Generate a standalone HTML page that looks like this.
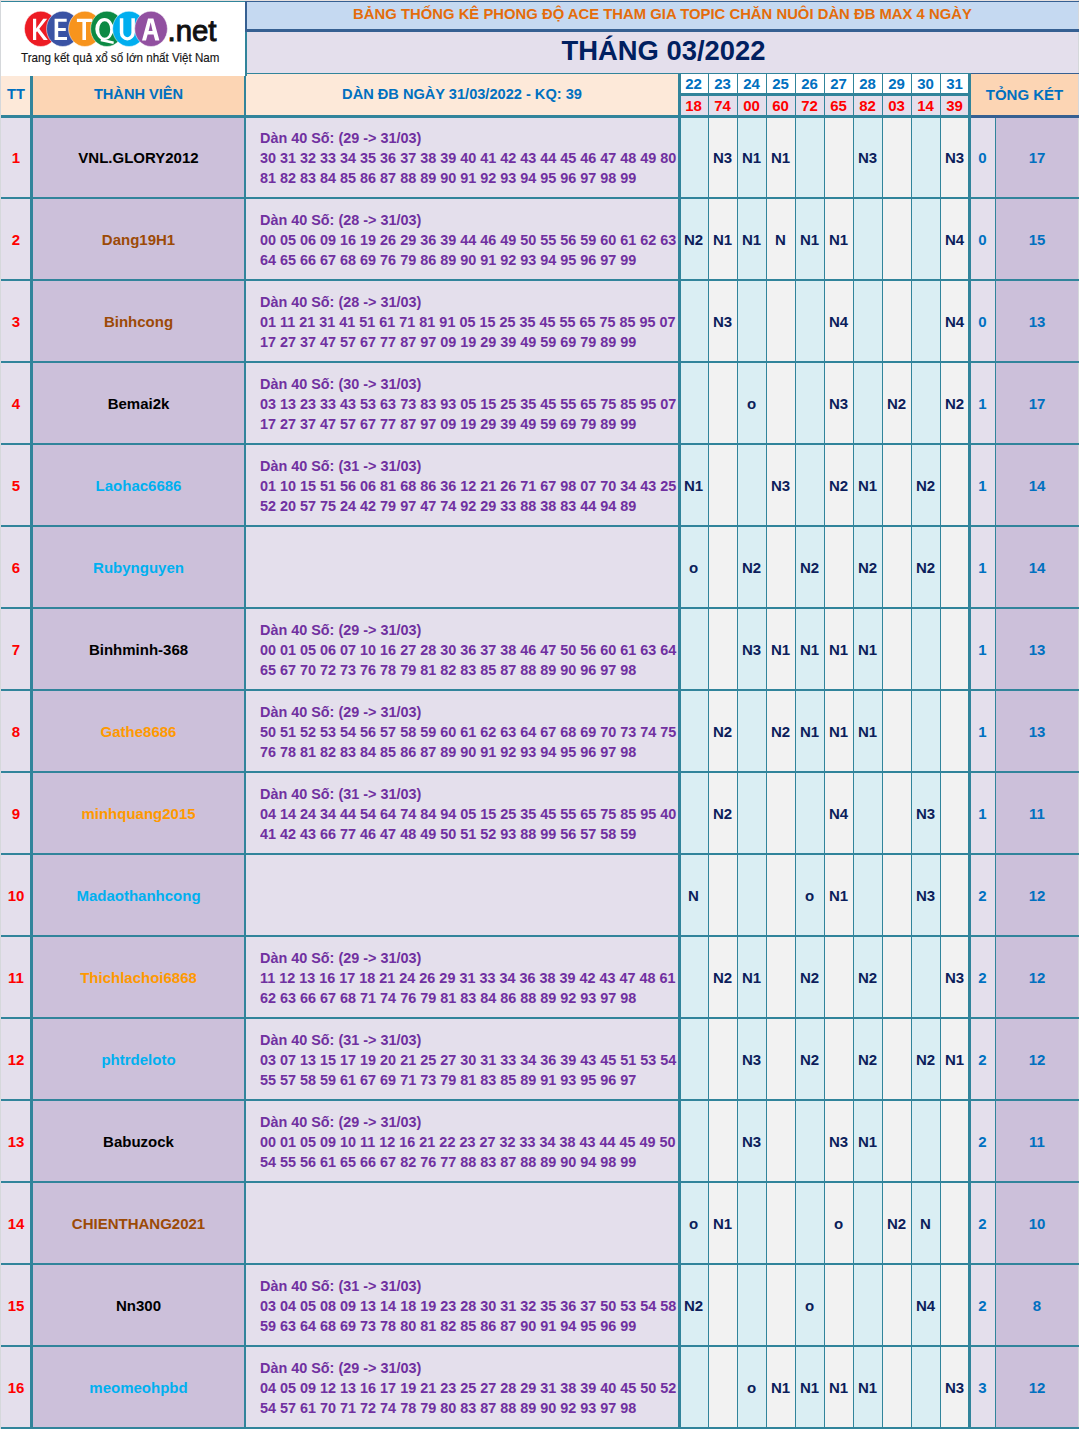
<!DOCTYPE html><html><head><meta charset="utf-8"><style>
*{margin:0;padding:0;box-sizing:border-box}
html,body{width:1079px;height:1429px;overflow:hidden;background:#fff}
body{position:relative;font-family:"Liberation Sans",sans-serif;font-weight:bold}
body>div{position:absolute;white-space:nowrap}
.t1{color:#E46C0A;font-size:14.85px;text-align:center}
.t2{color:#002060;font-size:27.4px;text-align:center}
.hd{color:#0070C0;font-size:14.6px;text-align:center}
.hd2{color:#0070C0;font-size:15px;text-align:center}
.dn{color:#0070C0;font-size:15px;text-align:center}
.rs{color:#FF0000;font-size:15px;text-align:center}
.tt{color:#FF0000;font-size:15px;text-align:center}
.nm{font-size:15px;text-align:center}
.dan{color:#7030A0;font-size:15px;line-height:20px;transform:scaleX(0.96);transform-origin:0 0}
.mk{color:#0C1E5B;font-size:15px;text-align:center}
.to{color:#0070C0;font-size:15px;text-align:center}
</style></head><body>
<div style="left:0px;top:0px;width:1079px;height:1px;background:#E7E1DF;"></div><div style="left:0px;top:0px;width:1px;height:1429px;background:#D5D8DB;"></div><div style="left:1078px;top:0px;width:1px;height:1429px;background:#D5D8DB;"></div><div style="left:1px;top:2px;width:244px;height:74px;background:#FFFFFF;"></div><div style="left:247px;top:2px;width:831px;height:27px;background:#C5D9F1;"></div><div style="left:247px;top:32px;width:831px;height:41px;background:#E4DFEC;"></div><div style="left:1px;top:76px;width:29px;height:39px;background:#FDE9D9;"></div><div style="left:33px;top:76px;width:211px;height:39px;background:#FCD5B4;"></div><div style="left:246px;top:74px;width:432px;height:41px;background:#FDE9D9;"></div><div style="left:681px;top:74px;width:27px;height:19px;background:#FFFFFF;"></div><div style="left:681px;top:96px;width:27px;height:19px;background:#E4DFEC;"></div><div style="left:709px;top:74px;width:28px;height:19px;background:#FFFFFF;"></div><div style="left:709px;top:96px;width:28px;height:19px;background:#E4DFEC;"></div><div style="left:738px;top:74px;width:28px;height:19px;background:#FFFFFF;"></div><div style="left:738px;top:96px;width:28px;height:19px;background:#E4DFEC;"></div><div style="left:767px;top:74px;width:28px;height:19px;background:#FFFFFF;"></div><div style="left:767px;top:96px;width:28px;height:19px;background:#E4DFEC;"></div><div style="left:796px;top:74px;width:28px;height:19px;background:#FFFFFF;"></div><div style="left:796px;top:96px;width:28px;height:19px;background:#E4DFEC;"></div><div style="left:825px;top:74px;width:28px;height:19px;background:#FFFFFF;"></div><div style="left:825px;top:96px;width:28px;height:19px;background:#E4DFEC;"></div><div style="left:854px;top:74px;width:28px;height:19px;background:#FFFFFF;"></div><div style="left:854px;top:96px;width:28px;height:19px;background:#E4DFEC;"></div><div style="left:883px;top:74px;width:28px;height:19px;background:#FFFFFF;"></div><div style="left:883px;top:96px;width:28px;height:19px;background:#E4DFEC;"></div><div style="left:912px;top:74px;width:28px;height:19px;background:#FFFFFF;"></div><div style="left:912px;top:96px;width:28px;height:19px;background:#E4DFEC;"></div><div style="left:941px;top:74px;width:28px;height:19px;background:#FFFFFF;"></div><div style="left:941px;top:96px;width:28px;height:19px;background:#E4DFEC;"></div><div style="left:971px;top:74px;width:107px;height:41px;background:#FCD5B4;"></div><div style="left:1px;top:118px;width:29px;height:79px;background:#E4DFEC;"></div><div style="left:33px;top:118px;width:211px;height:79px;background:#CCC0DA;"></div><div style="left:246px;top:118px;width:432px;height:79px;background:#E4DFEC;"></div><div style="left:681px;top:118px;width:27px;height:79px;background:#DAEEF3;"></div><div style="left:709px;top:118px;width:28px;height:79px;background:#F2F2F2;"></div><div style="left:738px;top:118px;width:28px;height:79px;background:#DAEEF3;"></div><div style="left:767px;top:118px;width:28px;height:79px;background:#F2F2F2;"></div><div style="left:796px;top:118px;width:28px;height:79px;background:#DAEEF3;"></div><div style="left:825px;top:118px;width:28px;height:79px;background:#F2F2F2;"></div><div style="left:854px;top:118px;width:28px;height:79px;background:#DAEEF3;"></div><div style="left:883px;top:118px;width:28px;height:79px;background:#F2F2F2;"></div><div style="left:912px;top:118px;width:28px;height:79px;background:#DAEEF3;"></div><div style="left:941px;top:118px;width:28px;height:79px;background:#F2F2F2;"></div><div style="left:971px;top:118px;width:24px;height:79px;background:#E4DFEC;"></div><div style="left:996px;top:118px;width:82px;height:79px;background:#CCC0DA;"></div><div style="left:1px;top:199px;width:29px;height:80px;background:#E4DFEC;"></div><div style="left:33px;top:199px;width:211px;height:80px;background:#CCC0DA;"></div><div style="left:246px;top:199px;width:432px;height:80px;background:#E4DFEC;"></div><div style="left:681px;top:199px;width:27px;height:80px;background:#DAEEF3;"></div><div style="left:709px;top:199px;width:28px;height:80px;background:#F2F2F2;"></div><div style="left:738px;top:199px;width:28px;height:80px;background:#DAEEF3;"></div><div style="left:767px;top:199px;width:28px;height:80px;background:#F2F2F2;"></div><div style="left:796px;top:199px;width:28px;height:80px;background:#DAEEF3;"></div><div style="left:825px;top:199px;width:28px;height:80px;background:#F2F2F2;"></div><div style="left:854px;top:199px;width:28px;height:80px;background:#DAEEF3;"></div><div style="left:883px;top:199px;width:28px;height:80px;background:#F2F2F2;"></div><div style="left:912px;top:199px;width:28px;height:80px;background:#DAEEF3;"></div><div style="left:941px;top:199px;width:28px;height:80px;background:#F2F2F2;"></div><div style="left:971px;top:199px;width:24px;height:80px;background:#E4DFEC;"></div><div style="left:996px;top:199px;width:82px;height:80px;background:#CCC0DA;"></div><div style="left:1px;top:281px;width:29px;height:80px;background:#E4DFEC;"></div><div style="left:33px;top:281px;width:211px;height:80px;background:#CCC0DA;"></div><div style="left:246px;top:281px;width:432px;height:80px;background:#E4DFEC;"></div><div style="left:681px;top:281px;width:27px;height:80px;background:#DAEEF3;"></div><div style="left:709px;top:281px;width:28px;height:80px;background:#F2F2F2;"></div><div style="left:738px;top:281px;width:28px;height:80px;background:#DAEEF3;"></div><div style="left:767px;top:281px;width:28px;height:80px;background:#F2F2F2;"></div><div style="left:796px;top:281px;width:28px;height:80px;background:#DAEEF3;"></div><div style="left:825px;top:281px;width:28px;height:80px;background:#F2F2F2;"></div><div style="left:854px;top:281px;width:28px;height:80px;background:#DAEEF3;"></div><div style="left:883px;top:281px;width:28px;height:80px;background:#F2F2F2;"></div><div style="left:912px;top:281px;width:28px;height:80px;background:#DAEEF3;"></div><div style="left:941px;top:281px;width:28px;height:80px;background:#F2F2F2;"></div><div style="left:971px;top:281px;width:24px;height:80px;background:#E4DFEC;"></div><div style="left:996px;top:281px;width:82px;height:80px;background:#CCC0DA;"></div><div style="left:1px;top:363px;width:29px;height:80px;background:#E4DFEC;"></div><div style="left:33px;top:363px;width:211px;height:80px;background:#CCC0DA;"></div><div style="left:246px;top:363px;width:432px;height:80px;background:#E4DFEC;"></div><div style="left:681px;top:363px;width:27px;height:80px;background:#DAEEF3;"></div><div style="left:709px;top:363px;width:28px;height:80px;background:#F2F2F2;"></div><div style="left:738px;top:363px;width:28px;height:80px;background:#DAEEF3;"></div><div style="left:767px;top:363px;width:28px;height:80px;background:#F2F2F2;"></div><div style="left:796px;top:363px;width:28px;height:80px;background:#DAEEF3;"></div><div style="left:825px;top:363px;width:28px;height:80px;background:#F2F2F2;"></div><div style="left:854px;top:363px;width:28px;height:80px;background:#DAEEF3;"></div><div style="left:883px;top:363px;width:28px;height:80px;background:#F2F2F2;"></div><div style="left:912px;top:363px;width:28px;height:80px;background:#DAEEF3;"></div><div style="left:941px;top:363px;width:28px;height:80px;background:#F2F2F2;"></div><div style="left:971px;top:363px;width:24px;height:80px;background:#E4DFEC;"></div><div style="left:996px;top:363px;width:82px;height:80px;background:#CCC0DA;"></div><div style="left:1px;top:445px;width:29px;height:80px;background:#E4DFEC;"></div><div style="left:33px;top:445px;width:211px;height:80px;background:#CCC0DA;"></div><div style="left:246px;top:445px;width:432px;height:80px;background:#E4DFEC;"></div><div style="left:681px;top:445px;width:27px;height:80px;background:#DAEEF3;"></div><div style="left:709px;top:445px;width:28px;height:80px;background:#F2F2F2;"></div><div style="left:738px;top:445px;width:28px;height:80px;background:#DAEEF3;"></div><div style="left:767px;top:445px;width:28px;height:80px;background:#F2F2F2;"></div><div style="left:796px;top:445px;width:28px;height:80px;background:#DAEEF3;"></div><div style="left:825px;top:445px;width:28px;height:80px;background:#F2F2F2;"></div><div style="left:854px;top:445px;width:28px;height:80px;background:#DAEEF3;"></div><div style="left:883px;top:445px;width:28px;height:80px;background:#F2F2F2;"></div><div style="left:912px;top:445px;width:28px;height:80px;background:#DAEEF3;"></div><div style="left:941px;top:445px;width:28px;height:80px;background:#F2F2F2;"></div><div style="left:971px;top:445px;width:24px;height:80px;background:#E4DFEC;"></div><div style="left:996px;top:445px;width:82px;height:80px;background:#CCC0DA;"></div><div style="left:1px;top:527px;width:29px;height:80px;background:#E4DFEC;"></div><div style="left:33px;top:527px;width:211px;height:80px;background:#CCC0DA;"></div><div style="left:246px;top:527px;width:432px;height:80px;background:#E4DFEC;"></div><div style="left:681px;top:527px;width:27px;height:80px;background:#DAEEF3;"></div><div style="left:709px;top:527px;width:28px;height:80px;background:#F2F2F2;"></div><div style="left:738px;top:527px;width:28px;height:80px;background:#DAEEF3;"></div><div style="left:767px;top:527px;width:28px;height:80px;background:#F2F2F2;"></div><div style="left:796px;top:527px;width:28px;height:80px;background:#DAEEF3;"></div><div style="left:825px;top:527px;width:28px;height:80px;background:#F2F2F2;"></div><div style="left:854px;top:527px;width:28px;height:80px;background:#DAEEF3;"></div><div style="left:883px;top:527px;width:28px;height:80px;background:#F2F2F2;"></div><div style="left:912px;top:527px;width:28px;height:80px;background:#DAEEF3;"></div><div style="left:941px;top:527px;width:28px;height:80px;background:#F2F2F2;"></div><div style="left:971px;top:527px;width:24px;height:80px;background:#E4DFEC;"></div><div style="left:996px;top:527px;width:82px;height:80px;background:#CCC0DA;"></div><div style="left:1px;top:609px;width:29px;height:80px;background:#E4DFEC;"></div><div style="left:33px;top:609px;width:211px;height:80px;background:#CCC0DA;"></div><div style="left:246px;top:609px;width:432px;height:80px;background:#E4DFEC;"></div><div style="left:681px;top:609px;width:27px;height:80px;background:#DAEEF3;"></div><div style="left:709px;top:609px;width:28px;height:80px;background:#F2F2F2;"></div><div style="left:738px;top:609px;width:28px;height:80px;background:#DAEEF3;"></div><div style="left:767px;top:609px;width:28px;height:80px;background:#F2F2F2;"></div><div style="left:796px;top:609px;width:28px;height:80px;background:#DAEEF3;"></div><div style="left:825px;top:609px;width:28px;height:80px;background:#F2F2F2;"></div><div style="left:854px;top:609px;width:28px;height:80px;background:#DAEEF3;"></div><div style="left:883px;top:609px;width:28px;height:80px;background:#F2F2F2;"></div><div style="left:912px;top:609px;width:28px;height:80px;background:#DAEEF3;"></div><div style="left:941px;top:609px;width:28px;height:80px;background:#F2F2F2;"></div><div style="left:971px;top:609px;width:24px;height:80px;background:#E4DFEC;"></div><div style="left:996px;top:609px;width:82px;height:80px;background:#CCC0DA;"></div><div style="left:1px;top:691px;width:29px;height:80px;background:#E4DFEC;"></div><div style="left:33px;top:691px;width:211px;height:80px;background:#CCC0DA;"></div><div style="left:246px;top:691px;width:432px;height:80px;background:#E4DFEC;"></div><div style="left:681px;top:691px;width:27px;height:80px;background:#DAEEF3;"></div><div style="left:709px;top:691px;width:28px;height:80px;background:#F2F2F2;"></div><div style="left:738px;top:691px;width:28px;height:80px;background:#DAEEF3;"></div><div style="left:767px;top:691px;width:28px;height:80px;background:#F2F2F2;"></div><div style="left:796px;top:691px;width:28px;height:80px;background:#DAEEF3;"></div><div style="left:825px;top:691px;width:28px;height:80px;background:#F2F2F2;"></div><div style="left:854px;top:691px;width:28px;height:80px;background:#DAEEF3;"></div><div style="left:883px;top:691px;width:28px;height:80px;background:#F2F2F2;"></div><div style="left:912px;top:691px;width:28px;height:80px;background:#DAEEF3;"></div><div style="left:941px;top:691px;width:28px;height:80px;background:#F2F2F2;"></div><div style="left:971px;top:691px;width:24px;height:80px;background:#E4DFEC;"></div><div style="left:996px;top:691px;width:82px;height:80px;background:#CCC0DA;"></div><div style="left:1px;top:773px;width:29px;height:80px;background:#E4DFEC;"></div><div style="left:33px;top:773px;width:211px;height:80px;background:#CCC0DA;"></div><div style="left:246px;top:773px;width:432px;height:80px;background:#E4DFEC;"></div><div style="left:681px;top:773px;width:27px;height:80px;background:#DAEEF3;"></div><div style="left:709px;top:773px;width:28px;height:80px;background:#F2F2F2;"></div><div style="left:738px;top:773px;width:28px;height:80px;background:#DAEEF3;"></div><div style="left:767px;top:773px;width:28px;height:80px;background:#F2F2F2;"></div><div style="left:796px;top:773px;width:28px;height:80px;background:#DAEEF3;"></div><div style="left:825px;top:773px;width:28px;height:80px;background:#F2F2F2;"></div><div style="left:854px;top:773px;width:28px;height:80px;background:#DAEEF3;"></div><div style="left:883px;top:773px;width:28px;height:80px;background:#F2F2F2;"></div><div style="left:912px;top:773px;width:28px;height:80px;background:#DAEEF3;"></div><div style="left:941px;top:773px;width:28px;height:80px;background:#F2F2F2;"></div><div style="left:971px;top:773px;width:24px;height:80px;background:#E4DFEC;"></div><div style="left:996px;top:773px;width:82px;height:80px;background:#CCC0DA;"></div><div style="left:1px;top:855px;width:29px;height:80px;background:#E4DFEC;"></div><div style="left:33px;top:855px;width:211px;height:80px;background:#CCC0DA;"></div><div style="left:246px;top:855px;width:432px;height:80px;background:#E4DFEC;"></div><div style="left:681px;top:855px;width:27px;height:80px;background:#DAEEF3;"></div><div style="left:709px;top:855px;width:28px;height:80px;background:#F2F2F2;"></div><div style="left:738px;top:855px;width:28px;height:80px;background:#DAEEF3;"></div><div style="left:767px;top:855px;width:28px;height:80px;background:#F2F2F2;"></div><div style="left:796px;top:855px;width:28px;height:80px;background:#DAEEF3;"></div><div style="left:825px;top:855px;width:28px;height:80px;background:#F2F2F2;"></div><div style="left:854px;top:855px;width:28px;height:80px;background:#DAEEF3;"></div><div style="left:883px;top:855px;width:28px;height:80px;background:#F2F2F2;"></div><div style="left:912px;top:855px;width:28px;height:80px;background:#DAEEF3;"></div><div style="left:941px;top:855px;width:28px;height:80px;background:#F2F2F2;"></div><div style="left:971px;top:855px;width:24px;height:80px;background:#E4DFEC;"></div><div style="left:996px;top:855px;width:82px;height:80px;background:#CCC0DA;"></div><div style="left:1px;top:937px;width:29px;height:80px;background:#E4DFEC;"></div><div style="left:33px;top:937px;width:211px;height:80px;background:#CCC0DA;"></div><div style="left:246px;top:937px;width:432px;height:80px;background:#E4DFEC;"></div><div style="left:681px;top:937px;width:27px;height:80px;background:#DAEEF3;"></div><div style="left:709px;top:937px;width:28px;height:80px;background:#F2F2F2;"></div><div style="left:738px;top:937px;width:28px;height:80px;background:#DAEEF3;"></div><div style="left:767px;top:937px;width:28px;height:80px;background:#F2F2F2;"></div><div style="left:796px;top:937px;width:28px;height:80px;background:#DAEEF3;"></div><div style="left:825px;top:937px;width:28px;height:80px;background:#F2F2F2;"></div><div style="left:854px;top:937px;width:28px;height:80px;background:#DAEEF3;"></div><div style="left:883px;top:937px;width:28px;height:80px;background:#F2F2F2;"></div><div style="left:912px;top:937px;width:28px;height:80px;background:#DAEEF3;"></div><div style="left:941px;top:937px;width:28px;height:80px;background:#F2F2F2;"></div><div style="left:971px;top:937px;width:24px;height:80px;background:#E4DFEC;"></div><div style="left:996px;top:937px;width:82px;height:80px;background:#CCC0DA;"></div><div style="left:1px;top:1019px;width:29px;height:80px;background:#E4DFEC;"></div><div style="left:33px;top:1019px;width:211px;height:80px;background:#CCC0DA;"></div><div style="left:246px;top:1019px;width:432px;height:80px;background:#E4DFEC;"></div><div style="left:681px;top:1019px;width:27px;height:80px;background:#DAEEF3;"></div><div style="left:709px;top:1019px;width:28px;height:80px;background:#F2F2F2;"></div><div style="left:738px;top:1019px;width:28px;height:80px;background:#DAEEF3;"></div><div style="left:767px;top:1019px;width:28px;height:80px;background:#F2F2F2;"></div><div style="left:796px;top:1019px;width:28px;height:80px;background:#DAEEF3;"></div><div style="left:825px;top:1019px;width:28px;height:80px;background:#F2F2F2;"></div><div style="left:854px;top:1019px;width:28px;height:80px;background:#DAEEF3;"></div><div style="left:883px;top:1019px;width:28px;height:80px;background:#F2F2F2;"></div><div style="left:912px;top:1019px;width:28px;height:80px;background:#DAEEF3;"></div><div style="left:941px;top:1019px;width:28px;height:80px;background:#F2F2F2;"></div><div style="left:971px;top:1019px;width:24px;height:80px;background:#E4DFEC;"></div><div style="left:996px;top:1019px;width:82px;height:80px;background:#CCC0DA;"></div><div style="left:1px;top:1101px;width:29px;height:80px;background:#E4DFEC;"></div><div style="left:33px;top:1101px;width:211px;height:80px;background:#CCC0DA;"></div><div style="left:246px;top:1101px;width:432px;height:80px;background:#E4DFEC;"></div><div style="left:681px;top:1101px;width:27px;height:80px;background:#DAEEF3;"></div><div style="left:709px;top:1101px;width:28px;height:80px;background:#F2F2F2;"></div><div style="left:738px;top:1101px;width:28px;height:80px;background:#DAEEF3;"></div><div style="left:767px;top:1101px;width:28px;height:80px;background:#F2F2F2;"></div><div style="left:796px;top:1101px;width:28px;height:80px;background:#DAEEF3;"></div><div style="left:825px;top:1101px;width:28px;height:80px;background:#F2F2F2;"></div><div style="left:854px;top:1101px;width:28px;height:80px;background:#DAEEF3;"></div><div style="left:883px;top:1101px;width:28px;height:80px;background:#F2F2F2;"></div><div style="left:912px;top:1101px;width:28px;height:80px;background:#DAEEF3;"></div><div style="left:941px;top:1101px;width:28px;height:80px;background:#F2F2F2;"></div><div style="left:971px;top:1101px;width:24px;height:80px;background:#E4DFEC;"></div><div style="left:996px;top:1101px;width:82px;height:80px;background:#CCC0DA;"></div><div style="left:1px;top:1183px;width:29px;height:80px;background:#E4DFEC;"></div><div style="left:33px;top:1183px;width:211px;height:80px;background:#CCC0DA;"></div><div style="left:246px;top:1183px;width:432px;height:80px;background:#E4DFEC;"></div><div style="left:681px;top:1183px;width:27px;height:80px;background:#DAEEF3;"></div><div style="left:709px;top:1183px;width:28px;height:80px;background:#F2F2F2;"></div><div style="left:738px;top:1183px;width:28px;height:80px;background:#DAEEF3;"></div><div style="left:767px;top:1183px;width:28px;height:80px;background:#F2F2F2;"></div><div style="left:796px;top:1183px;width:28px;height:80px;background:#DAEEF3;"></div><div style="left:825px;top:1183px;width:28px;height:80px;background:#F2F2F2;"></div><div style="left:854px;top:1183px;width:28px;height:80px;background:#DAEEF3;"></div><div style="left:883px;top:1183px;width:28px;height:80px;background:#F2F2F2;"></div><div style="left:912px;top:1183px;width:28px;height:80px;background:#DAEEF3;"></div><div style="left:941px;top:1183px;width:28px;height:80px;background:#F2F2F2;"></div><div style="left:971px;top:1183px;width:24px;height:80px;background:#E4DFEC;"></div><div style="left:996px;top:1183px;width:82px;height:80px;background:#CCC0DA;"></div><div style="left:1px;top:1265px;width:29px;height:80px;background:#E4DFEC;"></div><div style="left:33px;top:1265px;width:211px;height:80px;background:#CCC0DA;"></div><div style="left:246px;top:1265px;width:432px;height:80px;background:#E4DFEC;"></div><div style="left:681px;top:1265px;width:27px;height:80px;background:#DAEEF3;"></div><div style="left:709px;top:1265px;width:28px;height:80px;background:#F2F2F2;"></div><div style="left:738px;top:1265px;width:28px;height:80px;background:#DAEEF3;"></div><div style="left:767px;top:1265px;width:28px;height:80px;background:#F2F2F2;"></div><div style="left:796px;top:1265px;width:28px;height:80px;background:#DAEEF3;"></div><div style="left:825px;top:1265px;width:28px;height:80px;background:#F2F2F2;"></div><div style="left:854px;top:1265px;width:28px;height:80px;background:#DAEEF3;"></div><div style="left:883px;top:1265px;width:28px;height:80px;background:#F2F2F2;"></div><div style="left:912px;top:1265px;width:28px;height:80px;background:#DAEEF3;"></div><div style="left:941px;top:1265px;width:28px;height:80px;background:#F2F2F2;"></div><div style="left:971px;top:1265px;width:24px;height:80px;background:#E4DFEC;"></div><div style="left:996px;top:1265px;width:82px;height:80px;background:#CCC0DA;"></div><div style="left:1px;top:1347px;width:29px;height:80px;background:#E4DFEC;"></div><div style="left:33px;top:1347px;width:211px;height:80px;background:#CCC0DA;"></div><div style="left:246px;top:1347px;width:432px;height:80px;background:#E4DFEC;"></div><div style="left:681px;top:1347px;width:27px;height:80px;background:#DAEEF3;"></div><div style="left:709px;top:1347px;width:28px;height:80px;background:#F2F2F2;"></div><div style="left:738px;top:1347px;width:28px;height:80px;background:#DAEEF3;"></div><div style="left:767px;top:1347px;width:28px;height:80px;background:#F2F2F2;"></div><div style="left:796px;top:1347px;width:28px;height:80px;background:#DAEEF3;"></div><div style="left:825px;top:1347px;width:28px;height:80px;background:#F2F2F2;"></div><div style="left:854px;top:1347px;width:28px;height:80px;background:#DAEEF3;"></div><div style="left:883px;top:1347px;width:28px;height:80px;background:#F2F2F2;"></div><div style="left:912px;top:1347px;width:28px;height:80px;background:#DAEEF3;"></div><div style="left:941px;top:1347px;width:28px;height:80px;background:#F2F2F2;"></div><div style="left:971px;top:1347px;width:24px;height:80px;background:#E4DFEC;"></div><div style="left:996px;top:1347px;width:82px;height:80px;background:#CCC0DA;"></div><div style="left:1px;top:1px;width:245px;height:1px;background:#31849B;"></div><div style="left:245px;top:1px;width:834px;height:1px;background:#366092;"></div><div style="left:245px;top:29px;width:834px;height:3px;background:#366092;"></div><div style="left:245px;top:2px;width:2px;height:74px;background:#366092;"></div><div style="left:246px;top:73px;width:833px;height:1px;background:#31849B;"></div><div style="left:971px;top:73px;width:108px;height:1px;background:#366092;"></div><div style="left:679px;top:93px;width:291px;height:3px;background:#31849B;"></div><div style="left:1px;top:115px;width:1078px;height:3px;background:#31849B;"></div><div style="left:971px;top:115px;width:108px;height:3px;background:#366092;"></div><div style="left:1px;top:197px;width:1078px;height:2px;background:#31849B;"></div><div style="left:1px;top:279px;width:1078px;height:2px;background:#31849B;"></div><div style="left:1px;top:361px;width:1078px;height:2px;background:#31849B;"></div><div style="left:1px;top:443px;width:1078px;height:2px;background:#31849B;"></div><div style="left:1px;top:525px;width:1078px;height:2px;background:#31849B;"></div><div style="left:1px;top:607px;width:1078px;height:2px;background:#31849B;"></div><div style="left:1px;top:689px;width:1078px;height:2px;background:#31849B;"></div><div style="left:1px;top:771px;width:1078px;height:2px;background:#31849B;"></div><div style="left:1px;top:853px;width:1078px;height:2px;background:#31849B;"></div><div style="left:1px;top:935px;width:1078px;height:2px;background:#31849B;"></div><div style="left:1px;top:1017px;width:1078px;height:2px;background:#31849B;"></div><div style="left:1px;top:1099px;width:1078px;height:2px;background:#31849B;"></div><div style="left:1px;top:1181px;width:1078px;height:2px;background:#31849B;"></div><div style="left:1px;top:1263px;width:1078px;height:2px;background:#31849B;"></div><div style="left:1px;top:1345px;width:1078px;height:2px;background:#31849B;"></div><div style="left:1px;top:1427px;width:1078px;height:2px;background:#31849B;"></div><div style="left:30px;top:76px;width:3px;height:1353px;background:#31849B;"></div><div style="left:244px;top:76px;width:2px;height:1353px;background:#31849B;"></div><div style="left:245px;top:32px;width:2px;height:44px;background:#31849B;"></div><div style="left:678px;top:74px;width:3px;height:1355px;background:#31849B;"></div><div style="left:708px;top:74px;width:1px;height:1355px;background:#31849B;"></div><div style="left:737px;top:74px;width:1px;height:1355px;background:#31849B;"></div><div style="left:766px;top:74px;width:1px;height:1355px;background:#31849B;"></div><div style="left:795px;top:74px;width:1px;height:1355px;background:#31849B;"></div><div style="left:824px;top:74px;width:1px;height:1355px;background:#31849B;"></div><div style="left:853px;top:74px;width:1px;height:1355px;background:#31849B;"></div><div style="left:882px;top:74px;width:1px;height:1355px;background:#31849B;"></div><div style="left:911px;top:74px;width:1px;height:1355px;background:#31849B;"></div><div style="left:940px;top:74px;width:1px;height:1355px;background:#31849B;"></div><div style="left:968px;top:74px;width:3px;height:1355px;background:#31849B;"></div><div style="left:995px;top:118px;width:1px;height:1311px;background:#31849B;"></div><div class="t1" style="left:247px;top:1px;width:831px;height:27px;line-height:27px;">BẢNG THỐNG KÊ PHONG ĐỘ ACE THAM GIA TOPIC CHĂN NUÔI DÀN ĐB MAX 4 NGÀY</div><div class="t2" style="left:248px;top:30px;width:831px;height:41px;line-height:41px;">THÁNG 03/2022</div><div class="hd" style="left:1px;top:74px;width:30px;height:41px;line-height:41px;">TT</div><div class="hd" style="left:32px;top:74px;width:213px;height:41px;line-height:41px;">THÀNH VIÊN</div><div class="hd" style="left:246px;top:74px;width:432px;height:41px;line-height:41px;">DÀN ĐB NGÀY 31/03/2022 - KQ: 39</div><div class="dn" style="left:679px;top:74px;width:29px;height:19px;line-height:19px;">22</div><div class="rs" style="left:679px;top:96px;width:29px;height:19px;line-height:19px;">18</div><div class="dn" style="left:708px;top:74px;width:29px;height:19px;line-height:19px;">23</div><div class="rs" style="left:708px;top:96px;width:29px;height:19px;line-height:19px;">74</div><div class="dn" style="left:737px;top:74px;width:29px;height:19px;line-height:19px;">24</div><div class="rs" style="left:737px;top:96px;width:29px;height:19px;line-height:19px;">00</div><div class="dn" style="left:766px;top:74px;width:29px;height:19px;line-height:19px;">25</div><div class="rs" style="left:766px;top:96px;width:29px;height:19px;line-height:19px;">60</div><div class="dn" style="left:795px;top:74px;width:29px;height:19px;line-height:19px;">26</div><div class="rs" style="left:795px;top:96px;width:29px;height:19px;line-height:19px;">72</div><div class="dn" style="left:824px;top:74px;width:29px;height:19px;line-height:19px;">27</div><div class="rs" style="left:824px;top:96px;width:29px;height:19px;line-height:19px;">65</div><div class="dn" style="left:853px;top:74px;width:29px;height:19px;line-height:19px;">28</div><div class="rs" style="left:853px;top:96px;width:29px;height:19px;line-height:19px;">82</div><div class="dn" style="left:882px;top:74px;width:29px;height:19px;line-height:19px;">29</div><div class="rs" style="left:882px;top:96px;width:29px;height:19px;line-height:19px;">03</div><div class="dn" style="left:911px;top:74px;width:29px;height:19px;line-height:19px;">30</div><div class="rs" style="left:911px;top:96px;width:29px;height:19px;line-height:19px;">14</div><div class="dn" style="left:940px;top:74px;width:29px;height:19px;line-height:19px;">31</div><div class="rs" style="left:940px;top:96px;width:29px;height:19px;line-height:19px;">39</div><div class="hd2" style="left:971px;top:74px;width:107px;height:41px;line-height:41px;">TỎNG KÉT</div><div class="tt" style="left:1px;top:118px;width:30px;height:80px;line-height:80px;">1</div><div class="nm" style="left:32px;top:118px;width:213px;height:80px;line-height:80px;color:#000000">VNL.GLORY2012</div><div class="dan" style="left:260px;top:128px">Dàn 40 Số: (29 -> 31/03)<br>30 31 32 33 34 35 36 37 38 39 40 41 42 43 44 45 46 47 48 49 80<br>81 82 83 84 85 86 87 88 89 90 91 92 93 94 95 96 97 98 99</div><div class="mk" style="left:708px;top:118px;width:29px;height:80px;line-height:80px;">N3</div><div class="mk" style="left:737px;top:118px;width:29px;height:80px;line-height:80px;">N1</div><div class="mk" style="left:766px;top:118px;width:29px;height:80px;line-height:80px;">N1</div><div class="mk" style="left:853px;top:118px;width:29px;height:80px;line-height:80px;">N3</div><div class="mk" style="left:940px;top:118px;width:29px;height:80px;line-height:80px;">N3</div><div class="to" style="left:970px;top:118px;width:25px;height:80px;line-height:80px;">0</div><div class="to" style="left:996px;top:118px;width:82px;height:80px;line-height:80px;">17</div><div class="tt" style="left:1px;top:200px;width:30px;height:80px;line-height:80px;">2</div><div class="nm" style="left:32px;top:200px;width:213px;height:80px;line-height:80px;color:#9C4A06">Dang19H1</div><div class="dan" style="left:260px;top:210px">Dàn 40 Số: (28 -> 31/03)<br>00 05 06 09 16 19 26 29 36 39 44 46 49 50 55 56 59 60 61 62 63<br>64 65 66 67 68 69 76 79 86 89 90 91 92 93 94 95 96 97 99</div><div class="mk" style="left:679px;top:200px;width:29px;height:80px;line-height:80px;">N2</div><div class="mk" style="left:708px;top:200px;width:29px;height:80px;line-height:80px;">N1</div><div class="mk" style="left:737px;top:200px;width:29px;height:80px;line-height:80px;">N1</div><div class="mk" style="left:766px;top:200px;width:29px;height:80px;line-height:80px;">N</div><div class="mk" style="left:795px;top:200px;width:29px;height:80px;line-height:80px;">N1</div><div class="mk" style="left:824px;top:200px;width:29px;height:80px;line-height:80px;">N1</div><div class="mk" style="left:940px;top:200px;width:29px;height:80px;line-height:80px;">N4</div><div class="to" style="left:970px;top:200px;width:25px;height:80px;line-height:80px;">0</div><div class="to" style="left:996px;top:200px;width:82px;height:80px;line-height:80px;">15</div><div class="tt" style="left:1px;top:282px;width:30px;height:80px;line-height:80px;">3</div><div class="nm" style="left:32px;top:282px;width:213px;height:80px;line-height:80px;color:#9C4A06">Binhcong</div><div class="dan" style="left:260px;top:292px">Dàn 40 Số: (28 -> 31/03)<br>01 11 21 31 41 51 61 71 81 91 05 15 25 35 45 55 65 75 85 95 07<br>17 27 37 47 57 67 77 87 97 09 19 29 39 49 59 69 79 89 99</div><div class="mk" style="left:708px;top:282px;width:29px;height:80px;line-height:80px;">N3</div><div class="mk" style="left:824px;top:282px;width:29px;height:80px;line-height:80px;">N4</div><div class="mk" style="left:940px;top:282px;width:29px;height:80px;line-height:80px;">N4</div><div class="to" style="left:970px;top:282px;width:25px;height:80px;line-height:80px;">0</div><div class="to" style="left:996px;top:282px;width:82px;height:80px;line-height:80px;">13</div><div class="tt" style="left:1px;top:364px;width:30px;height:80px;line-height:80px;">4</div><div class="nm" style="left:32px;top:364px;width:213px;height:80px;line-height:80px;color:#000000">Bemai2k</div><div class="dan" style="left:260px;top:374px">Dàn 40 Số: (30 -> 31/03)<br>03 13 23 33 43 53 63 73 83 93 05 15 25 35 45 55 65 75 85 95 07<br>17 27 37 47 57 67 77 87 97 09 19 29 39 49 59 69 79 89 99</div><div class="mk" style="left:737px;top:364px;width:29px;height:80px;line-height:80px;">o</div><div class="mk" style="left:824px;top:364px;width:29px;height:80px;line-height:80px;">N3</div><div class="mk" style="left:882px;top:364px;width:29px;height:80px;line-height:80px;">N2</div><div class="mk" style="left:940px;top:364px;width:29px;height:80px;line-height:80px;">N2</div><div class="to" style="left:970px;top:364px;width:25px;height:80px;line-height:80px;">1</div><div class="to" style="left:996px;top:364px;width:82px;height:80px;line-height:80px;">17</div><div class="tt" style="left:1px;top:446px;width:30px;height:80px;line-height:80px;">5</div><div class="nm" style="left:32px;top:446px;width:213px;height:80px;line-height:80px;color:#00B0F0">Laohac6686</div><div class="dan" style="left:260px;top:456px">Dàn 40 Số: (31 -> 31/03)<br>01 10 15 51 56 06 81 68 86 36 12 21 26 71 67 98 07 70 34 43 25<br>52 20 57 75 24 42 79 97 47 74 92 29 33 88 38 83 44 94 89</div><div class="mk" style="left:679px;top:446px;width:29px;height:80px;line-height:80px;">N1</div><div class="mk" style="left:766px;top:446px;width:29px;height:80px;line-height:80px;">N3</div><div class="mk" style="left:824px;top:446px;width:29px;height:80px;line-height:80px;">N2</div><div class="mk" style="left:853px;top:446px;width:29px;height:80px;line-height:80px;">N1</div><div class="mk" style="left:911px;top:446px;width:29px;height:80px;line-height:80px;">N2</div><div class="to" style="left:970px;top:446px;width:25px;height:80px;line-height:80px;">1</div><div class="to" style="left:996px;top:446px;width:82px;height:80px;line-height:80px;">14</div><div class="tt" style="left:1px;top:528px;width:30px;height:80px;line-height:80px;">6</div><div class="nm" style="left:32px;top:528px;width:213px;height:80px;line-height:80px;color:#00B0F0">Rubynguyen</div><div class="mk" style="left:679px;top:528px;width:29px;height:80px;line-height:80px;">o</div><div class="mk" style="left:737px;top:528px;width:29px;height:80px;line-height:80px;">N2</div><div class="mk" style="left:795px;top:528px;width:29px;height:80px;line-height:80px;">N2</div><div class="mk" style="left:853px;top:528px;width:29px;height:80px;line-height:80px;">N2</div><div class="mk" style="left:911px;top:528px;width:29px;height:80px;line-height:80px;">N2</div><div class="to" style="left:970px;top:528px;width:25px;height:80px;line-height:80px;">1</div><div class="to" style="left:996px;top:528px;width:82px;height:80px;line-height:80px;">14</div><div class="tt" style="left:1px;top:610px;width:30px;height:80px;line-height:80px;">7</div><div class="nm" style="left:32px;top:610px;width:213px;height:80px;line-height:80px;color:#000000">Binhminh-368</div><div class="dan" style="left:260px;top:620px">Dàn 40 Số: (29 -> 31/03)<br>00 01 05 06 07 10 16 27 28 30 36 37 38 46 47 50 56 60 61 63 64<br>65 67 70 72 73 76 78 79 81 82 83 85 87 88 89 90 96 97 98</div><div class="mk" style="left:737px;top:610px;width:29px;height:80px;line-height:80px;">N3</div><div class="mk" style="left:766px;top:610px;width:29px;height:80px;line-height:80px;">N1</div><div class="mk" style="left:795px;top:610px;width:29px;height:80px;line-height:80px;">N1</div><div class="mk" style="left:824px;top:610px;width:29px;height:80px;line-height:80px;">N1</div><div class="mk" style="left:853px;top:610px;width:29px;height:80px;line-height:80px;">N1</div><div class="to" style="left:970px;top:610px;width:25px;height:80px;line-height:80px;">1</div><div class="to" style="left:996px;top:610px;width:82px;height:80px;line-height:80px;">13</div><div class="tt" style="left:1px;top:692px;width:30px;height:80px;line-height:80px;">8</div><div class="nm" style="left:32px;top:692px;width:213px;height:80px;line-height:80px;color:#FF9900">Gathe8686</div><div class="dan" style="left:260px;top:702px">Dàn 40 Số: (29 -> 31/03)<br>50 51 52 53 54 56 57 58 59 60 61 62 63 64 67 68 69 70 73 74 75<br>76 78 81 82 83 84 85 86 87 89 90 91 92 93 94 95 96 97 98</div><div class="mk" style="left:708px;top:692px;width:29px;height:80px;line-height:80px;">N2</div><div class="mk" style="left:766px;top:692px;width:29px;height:80px;line-height:80px;">N2</div><div class="mk" style="left:795px;top:692px;width:29px;height:80px;line-height:80px;">N1</div><div class="mk" style="left:824px;top:692px;width:29px;height:80px;line-height:80px;">N1</div><div class="mk" style="left:853px;top:692px;width:29px;height:80px;line-height:80px;">N1</div><div class="to" style="left:970px;top:692px;width:25px;height:80px;line-height:80px;">1</div><div class="to" style="left:996px;top:692px;width:82px;height:80px;line-height:80px;">13</div><div class="tt" style="left:1px;top:774px;width:30px;height:80px;line-height:80px;">9</div><div class="nm" style="left:32px;top:774px;width:213px;height:80px;line-height:80px;color:#FF9900">minhquang2015</div><div class="dan" style="left:260px;top:784px">Dàn 40 Số: (31 -> 31/03)<br>04 14 24 34 44 54 64 74 84 94 05 15 25 35 45 55 65 75 85 95 40<br>41 42 43 66 77 46 47 48 49 50 51 52 93 88 99 56 57 58 59</div><div class="mk" style="left:708px;top:774px;width:29px;height:80px;line-height:80px;">N2</div><div class="mk" style="left:824px;top:774px;width:29px;height:80px;line-height:80px;">N4</div><div class="mk" style="left:911px;top:774px;width:29px;height:80px;line-height:80px;">N3</div><div class="to" style="left:970px;top:774px;width:25px;height:80px;line-height:80px;">1</div><div class="to" style="left:996px;top:774px;width:82px;height:80px;line-height:80px;">11</div><div class="tt" style="left:1px;top:856px;width:30px;height:80px;line-height:80px;">10</div><div class="nm" style="left:32px;top:856px;width:213px;height:80px;line-height:80px;color:#00B0F0">Madaothanhcong</div><div class="mk" style="left:679px;top:856px;width:29px;height:80px;line-height:80px;">N</div><div class="mk" style="left:795px;top:856px;width:29px;height:80px;line-height:80px;">o</div><div class="mk" style="left:824px;top:856px;width:29px;height:80px;line-height:80px;">N1</div><div class="mk" style="left:911px;top:856px;width:29px;height:80px;line-height:80px;">N3</div><div class="to" style="left:970px;top:856px;width:25px;height:80px;line-height:80px;">2</div><div class="to" style="left:996px;top:856px;width:82px;height:80px;line-height:80px;">12</div><div class="tt" style="left:1px;top:938px;width:30px;height:80px;line-height:80px;">11</div><div class="nm" style="left:32px;top:938px;width:213px;height:80px;line-height:80px;color:#FF9900">Thichlachoi6868</div><div class="dan" style="left:260px;top:948px">Dàn 40 Số: (29 -> 31/03)<br>11 12 13 16 17 18 21 24 26 29 31 33 34 36 38 39 42 43 47 48 61<br>62 63 66 67 68 71 74 76 79 81 83 84 86 88 89 92 93 97 98</div><div class="mk" style="left:708px;top:938px;width:29px;height:80px;line-height:80px;">N2</div><div class="mk" style="left:737px;top:938px;width:29px;height:80px;line-height:80px;">N1</div><div class="mk" style="left:795px;top:938px;width:29px;height:80px;line-height:80px;">N2</div><div class="mk" style="left:853px;top:938px;width:29px;height:80px;line-height:80px;">N2</div><div class="mk" style="left:940px;top:938px;width:29px;height:80px;line-height:80px;">N3</div><div class="to" style="left:970px;top:938px;width:25px;height:80px;line-height:80px;">2</div><div class="to" style="left:996px;top:938px;width:82px;height:80px;line-height:80px;">12</div><div class="tt" style="left:1px;top:1020px;width:30px;height:80px;line-height:80px;">12</div><div class="nm" style="left:32px;top:1020px;width:213px;height:80px;line-height:80px;color:#00B0F0">phtrdeloto</div><div class="dan" style="left:260px;top:1030px">Dàn 40 Số: (31 -> 31/03)<br>03 07 13 15 17 19 20 21 25 27 30 31 33 34 36 39 43 45 51 53 54<br>55 57 58 59 61 67 69 71 73 79 81 83 85 89 91 93 95 96 97</div><div class="mk" style="left:737px;top:1020px;width:29px;height:80px;line-height:80px;">N3</div><div class="mk" style="left:795px;top:1020px;width:29px;height:80px;line-height:80px;">N2</div><div class="mk" style="left:853px;top:1020px;width:29px;height:80px;line-height:80px;">N2</div><div class="mk" style="left:911px;top:1020px;width:29px;height:80px;line-height:80px;">N2</div><div class="mk" style="left:940px;top:1020px;width:29px;height:80px;line-height:80px;">N1</div><div class="to" style="left:970px;top:1020px;width:25px;height:80px;line-height:80px;">2</div><div class="to" style="left:996px;top:1020px;width:82px;height:80px;line-height:80px;">12</div><div class="tt" style="left:1px;top:1102px;width:30px;height:80px;line-height:80px;">13</div><div class="nm" style="left:32px;top:1102px;width:213px;height:80px;line-height:80px;color:#000000">Babuzock</div><div class="dan" style="left:260px;top:1112px">Dàn 40 Số: (29 -> 31/03)<br>00 01 05 09 10 11 12 16 21 22 23 27 32 33 34 38 43 44 45 49 50<br>54 55 56 61 65 66 67 82 76 77 88 83 87 88 89 90 94 98 99</div><div class="mk" style="left:737px;top:1102px;width:29px;height:80px;line-height:80px;">N3</div><div class="mk" style="left:824px;top:1102px;width:29px;height:80px;line-height:80px;">N3</div><div class="mk" style="left:853px;top:1102px;width:29px;height:80px;line-height:80px;">N1</div><div class="to" style="left:970px;top:1102px;width:25px;height:80px;line-height:80px;">2</div><div class="to" style="left:996px;top:1102px;width:82px;height:80px;line-height:80px;">11</div><div class="tt" style="left:1px;top:1184px;width:30px;height:80px;line-height:80px;">14</div><div class="nm" style="left:32px;top:1184px;width:213px;height:80px;line-height:80px;color:#9C4A06">CHIENTHANG2021</div><div class="mk" style="left:679px;top:1184px;width:29px;height:80px;line-height:80px;">o</div><div class="mk" style="left:708px;top:1184px;width:29px;height:80px;line-height:80px;">N1</div><div class="mk" style="left:824px;top:1184px;width:29px;height:80px;line-height:80px;">o</div><div class="mk" style="left:882px;top:1184px;width:29px;height:80px;line-height:80px;">N2</div><div class="mk" style="left:911px;top:1184px;width:29px;height:80px;line-height:80px;">N</div><div class="to" style="left:970px;top:1184px;width:25px;height:80px;line-height:80px;">2</div><div class="to" style="left:996px;top:1184px;width:82px;height:80px;line-height:80px;">10</div><div class="tt" style="left:1px;top:1266px;width:30px;height:80px;line-height:80px;">15</div><div class="nm" style="left:32px;top:1266px;width:213px;height:80px;line-height:80px;color:#000000">Nn300</div><div class="dan" style="left:260px;top:1276px">Dàn 40 Số: (31 -> 31/03)<br>03 04 05 08 09 13 14 18 19 23 28 30 31 32 35 36 37 50 53 54 58<br>59 63 64 68 69 73 78 80 81 82 85 86 87 90 91 94 95 96 99</div><div class="mk" style="left:679px;top:1266px;width:29px;height:80px;line-height:80px;">N2</div><div class="mk" style="left:795px;top:1266px;width:29px;height:80px;line-height:80px;">o</div><div class="mk" style="left:911px;top:1266px;width:29px;height:80px;line-height:80px;">N4</div><div class="to" style="left:970px;top:1266px;width:25px;height:80px;line-height:80px;">2</div><div class="to" style="left:996px;top:1266px;width:82px;height:80px;line-height:80px;">8</div><div class="tt" style="left:1px;top:1348px;width:30px;height:80px;line-height:80px;">16</div><div class="nm" style="left:32px;top:1348px;width:213px;height:80px;line-height:80px;color:#00B0F0">meomeohpbd</div><div class="dan" style="left:260px;top:1358px">Dàn 40 Số: (29 -> 31/03)<br>04 05 09 12 13 16 17 19 21 23 25 27 28 29 31 38 39 40 45 50 52<br>54 57 61 70 71 72 74 78 79 80 83 87 88 89 90 92 93 97 98</div><div class="mk" style="left:737px;top:1348px;width:29px;height:80px;line-height:80px;">o</div><div class="mk" style="left:766px;top:1348px;width:29px;height:80px;line-height:80px;">N1</div><div class="mk" style="left:795px;top:1348px;width:29px;height:80px;line-height:80px;">N1</div><div class="mk" style="left:824px;top:1348px;width:29px;height:80px;line-height:80px;">N1</div><div class="mk" style="left:853px;top:1348px;width:29px;height:80px;line-height:80px;">N1</div><div class="mk" style="left:940px;top:1348px;width:29px;height:80px;line-height:80px;">N3</div><div class="to" style="left:970px;top:1348px;width:25px;height:80px;line-height:80px;">3</div><div class="to" style="left:996px;top:1348px;width:82px;height:80px;line-height:80px;">12</div>
<svg style="position:absolute;left:0;top:0;font-weight:normal" width="246" height="76" viewBox="0 0 246 76">
<ellipse cx="40.8" cy="28.85" rx="16.35" ry="17.65" fill="#ED1C24" stroke="#FFFFFF" stroke-width="0.5"/>
<path fill="#FFFFFF" d="M33,18.8 H36.2 V28.6 L43.2,18.8 H47.2 L39.3,28.8 L47.8,40 H43.7 L37.1,31.2 L36.2,32.3 V40 H33 Z"/>
<ellipse cx="62.85" cy="28.85" rx="16.35" ry="17.65" fill="#3A53A4" stroke="#FFFFFF" stroke-width="0.5"/>
<path fill="#FFFFFF" d="M54.6,18.8 H66.7 V21.8 H58.2 V28.1 H65.8 V30.9 H58.2 V36.9 H67 V40 H54.6 Z"/>
<ellipse cx="84.9" cy="28.85" rx="16.35" ry="17.65" fill="#F7941D" stroke="#FFFFFF" stroke-width="0.5"/>
<path fill="#FFFFFF" d="M76.9,18.8 H92.2 V21.9 H86 V40 H82.4 V21.9 H76.9 Z"/>
<ellipse cx="106.95" cy="28.85" rx="16.35" ry="17.65" fill="#0C8A44" stroke="#FFFFFF" stroke-width="0.5"/>
<path fill="#FFFFFF" fill-rule="evenodd" d="M95.3,29.05 A9.1,11.05 0 1 0 113.5,29.05 A9.1,11.05 0 1 0 95.3,29.05 Z M99.2,29.5 A5.5,8.35 0 1 1 110.2,29.5 A5.5,8.35 0 1 1 99.2,29.5 Z"/>
<path fill="#FFFFFF" d="M101,38.4 L113.9,41.5 L113.4,44.0 L100.6,41.2 Z"/>
<ellipse cx="129.0" cy="28.85" rx="16.35" ry="17.65" fill="#00AEEF" stroke="#FFFFFF" stroke-width="0.5"/>
<path fill="#FFFFFF" d="M119.8,18.2 H123.3 V32.5 A4.05,4.7 0 0 0 131.4,32.5 V18.2 H134.9 V32.5 A7.55,7.9 0 0 1 119.8,32.5 Z"/>
<ellipse cx="151.05" cy="28.85" rx="16.35" ry="17.65" fill="#9150A0" stroke="#FFFFFF" stroke-width="0.5"/>
<path fill="#FFFFFF" fill-rule="evenodd" d="M148,18.6 H153.4 L159.4,40.4 H155.2 L153.55,34.4 H147.65 L146,40.4 H142 Z M150.65,22.3 L152.6,30.9 H148.6 Z"/>
<text x="167.5" y="40.6" font-family="Liberation Sans" font-size="30" fill="#111" stroke="#111" stroke-width="1.0" textLength="49" lengthAdjust="spacingAndGlyphs">.net</text>
<text x="21" y="61.8" font-family="Liberation Sans" font-size="12.6" fill="#151515" stroke="#151515" stroke-width="0.15" textLength="198.5" lengthAdjust="spacingAndGlyphs">Trang kết quả xổ số lớn nhất Việt Nam</text>
</svg>
</body></html>
